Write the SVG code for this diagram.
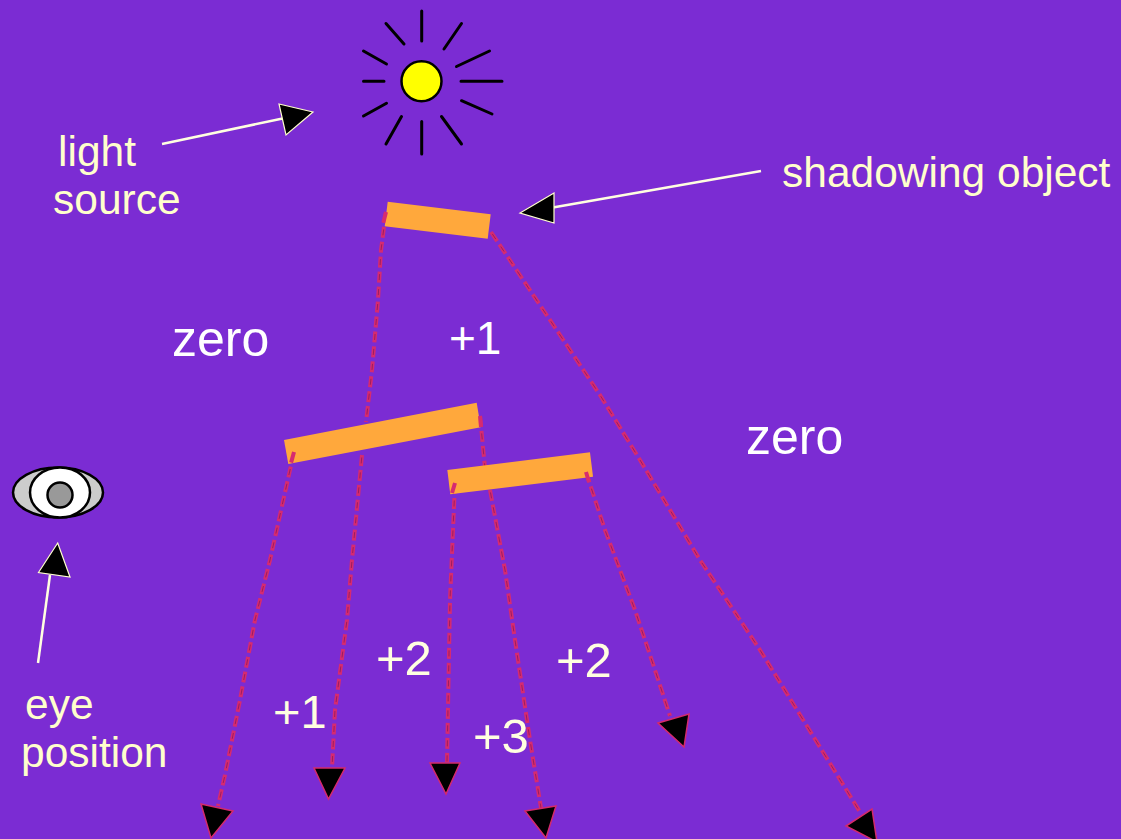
<svg xmlns="http://www.w3.org/2000/svg" width="1121" height="839" viewBox="0 0 1121 839">
<style>
text{font-family:"Liberation Sans",Arial,sans-serif;fill:#ffffcc}
.lbl{font-size:42.5px}
.cnt{font-size:46px;fill:#fff}
.cnt2{font-size:49px;fill:#ffffe0}
.ray{stroke:#000;stroke-width:3;stroke-linecap:round;fill:none}
.dashO{fill:none;stroke:#d62b70;stroke-width:4;stroke-dasharray:11 4}
.dashI{fill:none;stroke:#8a1a5c;stroke-width:.8;stroke-dasharray:6 9;stroke-dashoffset:-2.5}
.tipR{fill:#000;stroke:#d42a6c;stroke-width:1.5}
.tipW{fill:#000;stroke:#ffffcc;stroke-width:1.2}
.ptr{stroke:#ffffe0;stroke-width:2.5;fill:none}
.bar{fill:#ffa83c}
</style>
<rect width="1121" height="839" fill="#7b2cd3"/>
<defs>
<path id="r1" d="M386 212L381 250L378 300L372 370L366 422"/>
<path id="r2" d="M491 232L560 335L600 395L640 460L700 560L760 650L860 812"/>
<path id="r3" d="M480 416L485 468"/>
<path id="r4" d="M294 452L270 560L255 620L240 700L225 775L218 806"/>
<path id="r5" d="M362 455L352 560L347 620L335 710L332 768"/>
<path id="r6" d="M455 483L450 600L447 762"/>
<path id="r7" d="M490 490L505 570L515 640L530 740L541 808"/>
<path id="r8" d="M586 472L605 530L635 610L655 670L670 716"/>
</defs>
<g id="connectors">
<g id="shadow-rays">
<use href="#r1" class="dashO"/><use href="#r1" class="dashI"/>
<use href="#r2" class="dashO"/><use href="#r2" class="dashI"/>
<use href="#r3" class="dashO"/><use href="#r3" class="dashI"/>
<use href="#r4" class="dashO"/><use href="#r4" class="dashI"/>
<use href="#r5" class="dashO"/><use href="#r5" class="dashI"/>
<use href="#r6" class="dashO"/><use href="#r6" class="dashI"/>
<use href="#r7" class="dashO"/><use href="#r7" class="dashI"/>
<use href="#r8" class="dashO"/><use href="#r8" class="dashI"/>
</g>
<g id="ray-arrowheads">
<polygon class="tipR" points="201,804 233,811 211,838"/>
<polygon class="tipR" points="314,768 345,768 328.5,799"/>
<polygon class="tipR" points="430,763 460,763 446,794"/>
<polygon class="tipR" points="525,811 556,806 546,838"/>
<polygon class="tipR" points="658,723 689,714 684,747"/>
<polygon class="tipR" points="846,826 872,809 877,842"/>
</g>
<g id="pointers">
<path class="ptr" d="M162 144L285 118"/><polygon class="tipW" points="279,104 313,112 286,135"/>
<path class="ptr" d="M761 171L550 208"/><polygon class="tipW" points="554,193 520,213 554,223"/>
<path class="ptr" d="M38 663L50 575"/><polygon class="tipW" points="57.7,543 70,577 38.5,572.5"/>
</g>
</g>
<g id="sun">
<path class="ray" d="M421.7 11V41M386 23.5L404 44M461.5 23.5L444 49M363.5 51L386.5 64M489.5 51L456.5 66.5M363.5 81.3H384M461 81.3H502M363.5 116L386.5 103.3M461.5 100.7L492 114M386 144L401.5 116.5M421.7 121.5V154M441.5 116.5L461.5 144"/>
<circle cx="421.5" cy="81.3" r="20" fill="#ffff00" stroke="#000" stroke-width="2.5"/>
</g>
<g id="obj1"><polygon class="bar" points="387.7,201.7 490.7,214.3 487.7,238.7 384.7,226.3"/></g>
<g id="obj2"><polygon class="bar" points="284,440 476.7,402.7 480.7,427.3 288.3,464"/></g>
<g id="obj3"><polygon class="bar" points="447.3,470 590,452.3 593,476.7 450.3,494.3"/></g>
<g id="ray-starts">
<path class="dashO" d="M386 212L383 224"/><path class="dashO" d="M294 452L291 463"/><path class="dashO" d="M455 483L452 493"/><path class="dashO" d="M586 472L589 482"/><path class="dashO" d="M480 416L481 427"/>
</g>
<g id="eye">
<ellipse cx="58" cy="492.5" rx="45" ry="25" fill="#cccccc" stroke="#000" stroke-width="2.5"/>
<ellipse cx="60" cy="492.5" rx="30" ry="25" fill="#fff" stroke="#000" stroke-width="2.5"/>
<circle cx="60" cy="495" r="12.5" fill="#999" stroke="#000" stroke-width="2.5"/>
</g>
<g id="labels">
<text class="lbl" x="58" y="166">light</text>
<text class="lbl" x="53" y="214">source</text>
<text class="lbl" x="782" y="187">shadowing object</text>
<text class="lbl" x="25" y="719">eye</text>
<text class="lbl" x="21" y="767">position</text>
<text class="cnt" x="172" y="356" style="font-size:50px">zero</text>
<text class="cnt" x="746" y="454" style="font-size:50px">zero</text>
<text class="cnt" x="449" y="354">+1</text>
<text class="cnt2" x="273" y="728" style="font-size:47px">+1</text>
<text class="cnt2" x="376" y="675">+2</text>
<text class="cnt2" x="556" y="677">+2</text>
<text class="cnt2" x="473" y="753">+3</text>
</g>
</svg>
